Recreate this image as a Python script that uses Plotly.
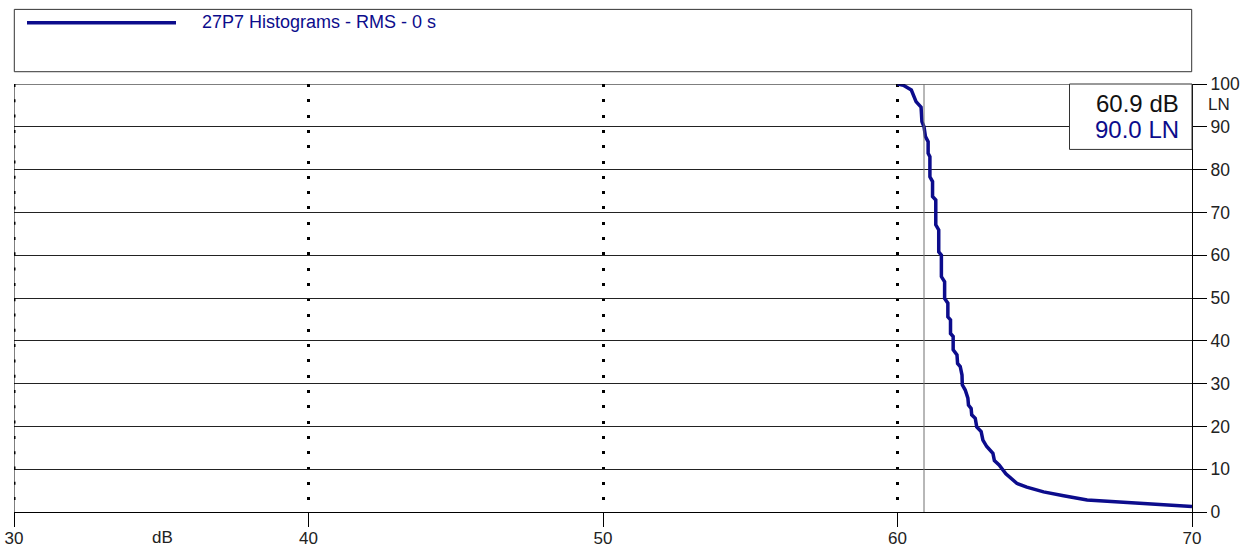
import plotly.graph_objects as go

# Cumulative level distribution (LN vs dB)
level_db = [60.0, 60.2, 60.47, 60.63, 60.8, 60.83, 60.9, 60.95, 61.04, 61.04, 61.1, 61.1, 61.19, 61.19,
            61.3, 61.3, 61.4, 61.4, 61.49, 61.49, 61.6, 61.6, 61.71, 61.71, 61.8, 61.8, 61.89, 61.89,
            62.02, 62.04, 62.13, 62.19, 62.2, 62.3, 62.39, 62.41, 62.5, 62.52, 62.64, 62.69, 62.84,
            62.9, 63.03, 63.24, 63.29, 63.45, 63.68, 64.05, 64.39, 64.96, 65.64, 66.44, 70.0]
ln_pct = [100, 99.7, 98.6, 95.9, 94.6, 91.2, 90.0, 87.7, 86.5, 83.8, 83.0, 78.3, 77.2, 73.7,
          72.9, 67.1, 65.9, 60.8, 60.0, 55.0, 53.8, 49.9, 48.8, 45.6, 44.9, 41.7, 41.0, 37.9,
          36.7, 34.7, 34.0, 32.0, 29.7, 28.5, 26.6, 25.0, 24.2, 22.7, 21.9, 19.9, 18.8,
          16.8, 15.3, 13.7, 12.0, 11.0, 8.9, 6.7, 5.8, 4.7, 3.8, 2.8, 1.3]

x_ticks = [30, 40, 50, 60, 70]
y_ticks = [0, 10, 20, 30, 40, 50, 60, 70, 80, 90, 100]
series_name = "27P7 Histograms - RMS - 0 s"
cursor_db = 60.9
cursor_ln = 90.0

NAVY = "#0c0c8c"
FONT = "Liberation Sans, Arial, sans-serif"
DOTS = "3px,12.3px"

# plot area in pixels
L, R, T, B = 14, 1192, 84, 512.5
W, H = R - L, B - T

fig = go.Figure()
fig.add_trace(go.Scatter(x=level_db, y=ln_pct, mode="lines", name=series_name,
                         line=dict(color=NAVY, width=3.5), showlegend=False))

fig.update_layout(
    width=1247, height=548,
    margin=dict(l=L, r=1247 - R, t=T, b=548 - B, autoexpand=False),
    paper_bgcolor="white", plot_bgcolor="white",
    font=dict(family=FONT, size=17, color="#222"),
    xaxis=dict(range=[30, 70], tickvals=x_ticks, ticktext=[str(v) for v in x_ticks],
               showgrid=True, gridcolor="black", gridwidth=3, griddash=DOTS,
               ticks="outside", ticklen=14, tickcolor="black", tickwidth=1,
               ticklabelstandoff=-3,
               showline=True, linecolor="black", linewidth=1, zeroline=False,
               tickfont=dict(size=17, color="#222")),
    yaxis=dict(range=[0, 100], tickvals=y_ticks, side="right",
               showgrid=True, gridcolor="#222", gridwidth=1,
               ticks="outside", ticklen=14, tickcolor="black", tickwidth=1,
               ticklabelstandoff=0,
               showline=True, linecolor="black", linewidth=1, mirror=False, zeroline=False,
               tickfont=dict(size=17.5, color="#222")),
)

def px(xp):
    return (xp - L) / W
def py(yp):
    return (B - yp) / H

shapes = [
    # legend box
    dict(type="rect", xref="paper", yref="paper", x0=px(14.3), x1=px(1191.7), y0=py(71.7), y1=py(9.3),
         line=dict(color="#333", width=1), fillcolor="white"),
    # legend line
    dict(type="line", xref="paper", yref="paper", x0=px(27), x1=px(176), y0=py(22.7), y1=py(22.7),
         line=dict(color=NAVY, width=3.5)),
    # top border (100 line) and left border
    dict(type="line", xref="paper", yref="y", x0=0, x1=1, y0=100, y1=100,
         line=dict(color="black", width=1)),
    dict(type="line", xref="x", yref="paper", x0=30, x1=30, y0=0, y1=1,
         line=dict(color="black", width=1)),
    dict(type="line", xref="x", yref="paper", x0=30, x1=30, y0=1, y1=0,
         line=dict(color="black", width=3, dash=DOTS)),
    # cursor vertical line
    dict(type="line", xref="x", yref="paper", x0=cursor_db, x1=cursor_db, y0=0, y1=1,
         line=dict(color="#707070", width=1)),
    # cursor readout box
    dict(type="rect", xref="paper", yref="paper", x0=px(1069.5), x1=1.0, y0=py(149.5), y1=1.0,
         line=dict(color="#333", width=1), fillcolor="white"),
]
fig.update_layout(shapes=shapes)

annotations = [
    dict(text=series_name, xref="paper", yref="paper", x=px(200), y=py(22), xanchor="left",
         yanchor="middle", showarrow=False, font=dict(color=NAVY, size=18, family=FONT)),
    dict(text=f"{cursor_db:.1f} dB", xref="paper", yref="paper", x=px(1181), y=py(104),
         xanchor="right", yanchor="middle", showarrow=False, font=dict(color="#111", size=24, family=FONT)),
    dict(text=f"{cursor_ln:.1f} LN", xref="paper", yref="paper", x=px(1181), y=py(129.5),
         xanchor="right", yanchor="middle", showarrow=False, font=dict(color=NAVY, size=24, family=FONT)),
    dict(text="LN", xref="paper", yref="paper", x=px(1219), y=py(105), xanchor="center",
         yanchor="middle", showarrow=False, font=dict(color="#222", size=17, family=FONT)),
    dict(text="dB", xref="paper", yref="paper", x=px(162), y=py(538), xanchor="center",
         yanchor="middle", showarrow=False, font=dict(color="#222", size=17, family=FONT)),
]
fig.update_layout(annotations=annotations)

fig.write_html("out.html", config={"displayModeBar": False},
               post_script="document.body.style.margin='0';")
